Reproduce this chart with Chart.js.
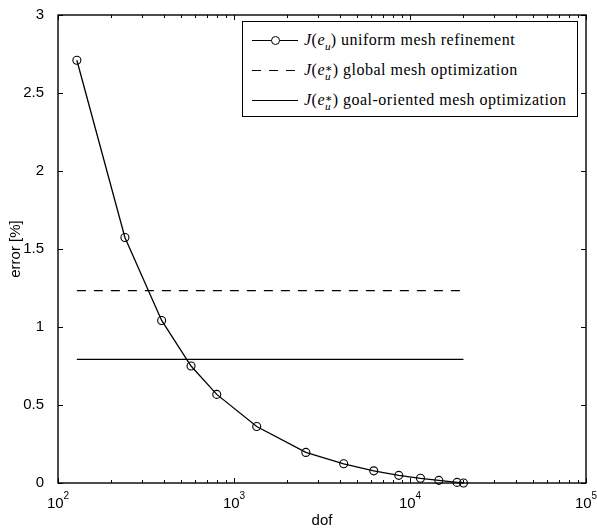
<!DOCTYPE html>
<html>
<head>
<meta charset="utf-8">
<script src="https://cdn.jsdelivr.net/npm/chart.js@4.4.1/dist/chart.umd.min.js"></script>
<style>
  html, body { margin: 0; padding: 0; background: #fff; }
  #wrap { position: relative; width: 597px; height: 531px; }
  #legend {
    position: absolute; left: 242px; top: 21px; width: 334px; height: 94px;
    border: 1px solid #000; background: #fff;
    font-family: "Liberation Serif", "DejaVu Serif", serif; font-size: 16px; color: #000;
    letter-spacing: 0.5px;
  }
  .row { position: absolute; left: 0; height: 20px; line-height: 20px; white-space: nowrap; }
  .sample { position: absolute; left: 9px; top: 10px; width: 46px; height: 0; border-top: 1.3px solid #000; }
  .sample.dash { border-top: none; height: 1.3px; top: 10px;
    background: repeating-linear-gradient(90deg, #000 0 9px, transparent 9px 17px); }
  .sample .mk { position: absolute; left: 19px; top: -5.5px; width: 7px; height: 7px;
    border: 1.1px solid #000; border-radius: 50%; background: #fff; }
  .txt { position: absolute; left: 61px; top: 0; }
  .ss { display: inline-block; vertical-align: -0.45em; line-height: 0.75; font-size: 0.7em; letter-spacing: 0; }
  .ss span { display: block; }
</style>
</head>
<body>
<div id="wrap">
  <canvas id="c" width="597" height="531"></canvas>
  <div id="legend">
    <div class="row" style="top:8px"><div class="sample"><div class="mk"></div></div>
      <span class="txt"><i>J</i>(<i>e</i><span class="ss"><span>&nbsp;</span><span><i>u</i></span></span>) uniform mesh refinement</span></div>
    <div class="row" style="top:38px"><div class="sample dash"></div>
      <span class="txt"><i>J</i>(<i>e</i><span class="ss"><span>∗</span><span><i>u</i></span></span>) global mesh optimization</span></div>
    <div class="row" style="top:68px"><div class="sample"></div>
      <span class="txt"><i>J</i>(<i>e</i><span class="ss"><span>∗</span><span><i>u</i></span></span>) goal-oriented mesh optimization</span></div>
  </div>
</div>
<script>
// degrees of freedom and error [%]
const dof     = [128, 240, 388, 570, 798, 1346, 2560, 4200, 6225, 8635, 11470, 14580, 18500, 20130];
const errUnif = [2.71, 1.574, 1.042, 0.750, 0.568, 0.362, 0.196, 0.123, 0.078, 0.049, 0.030, 0.017, 0.004, 0.0];
const errGlobal = 1.233;   // J(e_u*) global mesh optimization
const errGoal   = 0.792;   // J(e_u*) goal-oriented mesh optimization

const xDecades = [100, 1000, 10000, 100000];
const yTicks   = [0, 0.5, 1, 1.5, 2, 2.5, 3];

const SANS = '"Liberation Sans", Arial, sans-serif';

const flatLine = v => [{ x: dof[0], y: v }, { x: dof[dof.length - 1], y: v }];

// frame, inward ticks (matlab style), x labels with exponents, axis titles
const axesDeco = {
  id: 'axesDeco',
  afterDraw(chart) {
    const { ctx, chartArea: a, scales } = chart;
    const xs = scales.x, ys = scales.y;
    ctx.save();
    ctx.strokeStyle = '#000';
    ctx.lineWidth = 1;
    ctx.beginPath();
    yTicks.forEach(v => {
      const p = Math.round(ys.getPixelForValue(v)) + 0.5;
      ctx.moveTo(a.left, p); ctx.lineTo(a.left + 5, p);
      ctx.moveTo(a.right, p); ctx.lineTo(a.right - 5, p);
    });
    xDecades.forEach((d, i) => {
      const p = Math.round(xs.getPixelForValue(d)) + 0.5;
      ctx.moveTo(p, a.bottom); ctx.lineTo(p, a.bottom - 5);
      ctx.moveTo(p, a.top); ctx.lineTo(p, a.top + 5);
      if (i < xDecades.length - 1) {
        for (let k = 2; k <= 9; k++) {
          const q = Math.round(xs.getPixelForValue(k * d)) + 0.5;
          ctx.moveTo(q, a.bottom); ctx.lineTo(q, a.bottom - 3);
          ctx.moveTo(q, a.top); ctx.lineTo(q, a.top + 3);
        }
      }
    });
    ctx.stroke();

    ctx.lineWidth = 1.4;
    ctx.strokeRect(a.left, a.top, a.right - a.left, a.bottom - a.top);

    // x tick labels 10^n
    ctx.fillStyle = '#000';
    ctx.textBaseline = 'alphabetic';
    xDecades.forEach(d => {
      const p = xs.getPixelForValue(d);
      const exp = String(Math.round(Math.log10(d)));
      ctx.font = '15px ' + SANS;
      const wb = ctx.measureText('10').width;
      ctx.font = '10px ' + SANS;
      const we = ctx.measureText(exp).width;
      const x0 = p - (wb + we) / 2;
      ctx.font = '15px ' + SANS;
      ctx.textAlign = 'left';
      ctx.fillText('10', x0, 508);
      ctx.font = '10px ' + SANS;
      ctx.fillText(exp, x0 + wb, 499);
    });

    // axis titles
    ctx.font = '15px ' + SANS;
    ctx.textAlign = 'center';
    ctx.fillText('dof', (a.left + a.right) / 2, 525);
    ctx.translate(20, (a.top + a.bottom) / 2);
    ctx.rotate(-Math.PI / 2);
    ctx.fillText('error [%]', 0, 0);
    ctx.restore();
  }
};

new Chart(document.getElementById('c'), {
  type: 'line',
  data: {
    datasets: [
      {
        label: 'uniform mesh refinement',
        data: dof.map((d, i) => ({ x: d, y: errUnif[i] })),
        borderColor: '#000', borderWidth: 1.3,
        pointRadius: 4, pointBorderWidth: 1.1,
        pointBorderColor: '#000', pointBackgroundColor: 'rgba(0,0,0,0)',
        tension: 0, clip: 8,
      },
      {
        label: 'global mesh optimization',
        data: flatLine(errGlobal),
        borderColor: '#000', borderWidth: 1.3, borderDash: [9, 8],
        pointRadius: 0,
      },
      {
        label: 'goal-oriented mesh optimization',
        data: flatLine(errGoal),
        borderColor: '#000', borderWidth: 1.3,
        pointRadius: 0,
      },
    ]
  },
  options: {
    responsive: false,
    animation: false,
    devicePixelRatio: 1,
    layout: { padding: { top: 11, right: 11, left: 0, bottom: 0 } },
    plugins: { legend: { display: false }, tooltip: { enabled: false } },
    scales: {
      x: {
        type: 'logarithmic',
        min: 100, max: 100000,
        grid: { display: false },
        border: { display: false },
        ticks: { display: false },
        afterFit: s => { s.height = 48; },
      },
      y: {
        min: 0, max: 3,
        grid: { display: false },
        border: { display: false },
        afterBuildTicks: s => { s.ticks = yTicks.map(v => ({ value: v })); },
        ticks: {
          padding: 6, color: '#000', font: { family: SANS, size: 15 },
          callback: v => String(v),
        },
        afterFit: s => { s.width = 58; },
      }
    }
  },
  plugins: [axesDeco]
});
</script>
</body>
</html>
